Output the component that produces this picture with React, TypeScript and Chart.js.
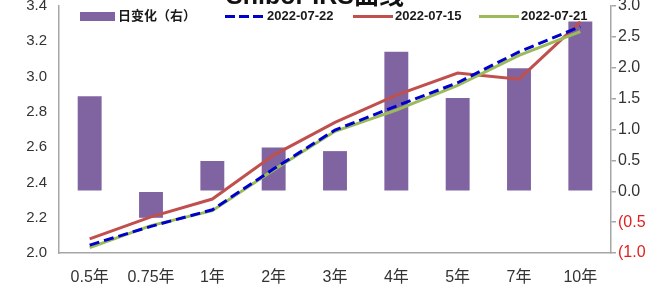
import React, { useEffect, useRef } from "react";
import { Chart, registerables } from "chart.js";

Chart.register(...registerables);

const categories = ["0.5年", "0.75年", "1年", "2年", "3年", "4年", "5年", "7年", "10年"];
const dailyChange = [1.54, -0.43, 0.49, 0.71, 0.65, 2.26, 1.51, 1.99, 2.75];
const curve0722 = [2.045, 2.151, 2.245, 2.477, 2.697, 2.833, 2.965, 3.14, 3.283];
const curve0715 = [2.08, 2.205, 2.306, 2.555, 2.74, 2.895, 3.02, 2.985, 3.31];
const curve0721 = [2.03, 2.155, 2.24, 2.47, 2.69, 2.81, 2.95, 3.12, 3.255];
const leftTicks = { min: 2.0, max: 3.4, step: 0.2 };
const rightTicks = { min: -1.0, max: 3.0, step: 0.5 };
const titleText = "Shibor IRS曲线";

const PURPLE = "#8064a2";
const BLUE = "#0000cc";
const RED = "#c0504d";
const GREEN = "#9bbb59";
const AXIS = "#a6a6a6";
const FONT = "'Liberation Sans', 'Noto Sans CJK SC', sans-serif";

const overlayPlugin = {
  id: "overlay",
  afterDraw(chart: any) {
    const ctx = chart.ctx;
    ctx.save();
    // clipped title
    ctx.font = `bold 25px ${FONT}`;
    ctx.fillStyle = "#111";
    ctx.textAlign = "center";
    ctx.textBaseline = "alphabetic";
    ctx.fillText(titleText, 315, 4);

    // legend
    const y = 16.5;
    const ds = chart.data.datasets;
    ctx.font = `bold 13px ${FONT}`;
    ctx.textAlign = "left";
    ctx.textBaseline = "middle";
    ctx.fillStyle = PURPLE;
    ctx.fillRect(80, 12, 35, 9);
    ctx.fillStyle = "#1a1a1a";
    ctx.fillText(ds[0].label, 118, y);
    const items = [
      { i: 1, x: 225, dash: [10, 4] },
      { i: 2, x: 353, dash: [] },
      { i: 3, x: 479, dash: [] },
    ];
    items.forEach((it) => {
      ctx.beginPath();
      ctx.setLineDash(it.dash);
      ctx.lineWidth = 3;
      ctx.strokeStyle = ds[it.i].borderColor;
      ctx.moveTo(it.x, y);
      ctx.lineTo(it.x + 40, y);
      ctx.stroke();
      ctx.setLineDash([]);
      ctx.fillStyle = "#1a1a1a";
      ctx.fillText(ds[it.i].label, it.x + 42, y);
    });
    ctx.restore();
  },
};

export default function App() {
  const ref = useRef<HTMLCanvasElement | null>(null);
  useEffect(() => {
    document.body.style.margin = "0";
    if (!ref.current) return;
    const chart = new Chart(ref.current, {
      type: "bar",
      data: {
        labels: categories,
        datasets: [
          {
            type: "bar",
            label: "日变化（右）",
            data: dailyChange,
            backgroundColor: PURPLE,
            yAxisID: "y1",
            order: 10,
            barPercentage: 0.39,
            categoryPercentage: 1,
          },
          {
            type: "line",
            label: "2022-07-22",
            data: curve0722,
            borderColor: BLUE,
            backgroundColor: BLUE,
            borderWidth: 3,
            borderDash: [10, 5],
            pointRadius: 0,
            yAxisID: "y",
            order: 1,
          },
          {
            type: "line",
            label: "2022-07-15",
            data: curve0715,
            borderColor: RED,
            backgroundColor: RED,
            borderWidth: 3,
            pointRadius: 0,
            yAxisID: "y",
            order: 3,
          },
          {
            type: "line",
            label: "2022-07-21",
            data: curve0721,
            borderColor: GREEN,
            backgroundColor: GREEN,
            borderWidth: 3,
            pointRadius: 0,
            yAxisID: "y",
            order: 2,
          },
        ] as any,
      },
      options: {
        animation: false,
        responsive: true,
        maintainAspectRatio: false,
        layout: { padding: 0 },
        plugins: {
          legend: { display: false },
          title: { display: false },
          tooltip: { enabled: false },
        },
        scales: {
          x: {
            grid: { display: false, drawTicks: false },
            border: { display: true, color: AXIS, width: 1.5 },
            ticks: {
              color: "#333",
              font: { family: FONT, size: 16 },
              padding: 15,
              maxRotation: 0,
              autoSkip: false,
            },
            afterFit: (s: any) => {
              s.height = 38;
            },
          },
          y: {
            position: "left",
            min: leftTicks.min,
            max: leftTicks.max,
            grid: { display: false, drawTicks: false },
            border: { display: true, color: AXIS, width: 1.5 },
            ticks: {
              stepSize: leftTicks.step,
              color: "#333",
              font: { family: FONT, size: 15 },
              padding: 12,
              callback: (v: any) => Number(v).toFixed(1),
            },
            afterFit: (s: any) => {
              s.width = 59;
              s.paddingTop = 6;
            },
          },
          y1: {
            position: "right",
            min: rightTicks.min,
            max: rightTicks.max,
            grid: {
              display: true,
              drawOnChartArea: false,
              drawTicks: true,
              tickLength: 5,
              color: AXIS,
              lineWidth: 1.5,
            },
            border: { display: true, color: AXIS, width: 1.5 },
            ticks: {
              stepSize: rightTicks.step,
              color: (c: any) => (c.tick && c.tick.value < 0 ? "#e02020" : "#333"),
              font: { family: FONT, size: 16 },
              padding: 2,
              callback: (v: any) => {
                const n = Number(v);
                return n < 0 ? `(${Math.abs(n).toFixed(1)})` : n.toFixed(1);
              },
            },
            afterFit: (s: any) => {
              s.width = 34;
              s.paddingTop = 6;
            },
          },
        },
      },
      plugins: [overlayPlugin],
    });
    return () => chart.destroy();
  }, []);
  return (
    <div style={{ position: "relative", width: 645, height: 291 }}>
      <canvas ref={ref} />
    </div>
  );
}
